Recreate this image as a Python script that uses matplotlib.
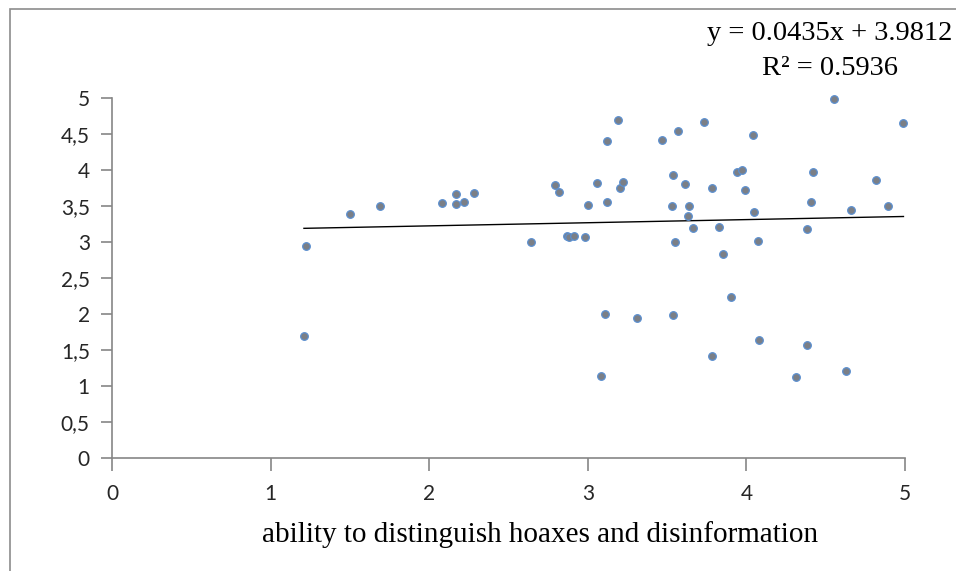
import matplotlib.pyplot as plt
import matplotlib.patches as patches
import numpy as np

# scatter values
x_vals = [1.22, 1.21, 1.50, 1.69, 2.08, 2.17, 2.17, 2.22, 2.28, 2.64,
          2.79, 2.82, 2.87, 2.88, 2.91, 2.98, 3.00, 3.06, 3.12, 3.12,
          3.19, 3.20, 3.22, 3.47, 3.57, 3.54, 3.53, 3.55, 3.73, 4.04,
          4.55, 4.99, 3.61, 3.94, 3.97, 3.78, 3.99, 4.42, 4.82, 3.64,
          3.63, 4.05, 4.41, 4.66, 4.89, 3.66, 3.83, 4.38, 4.07, 3.85,
          3.11, 3.31, 3.54, 3.08, 3.90, 3.78, 4.08, 4.38, 4.31, 4.63]
y_vals = [2.95, 1.69, 3.39, 3.50, 3.54, 3.53, 3.67, 3.56, 3.68, 3.00,
          3.79, 3.70, 3.09, 3.07, 3.09, 3.07, 3.52, 3.82, 4.40, 3.56,
          4.70, 3.75, 3.84, 4.42, 4.54, 3.93, 3.50, 3.00, 4.67, 4.49,
          4.99, 4.65, 3.81, 3.97, 4.00, 3.75, 3.72, 3.97, 3.86, 3.50,
          3.36, 3.41, 3.56, 3.45, 3.50, 3.20, 3.21, 3.18, 3.02, 2.84,
          2.00, 1.94, 1.98, 1.14, 2.23, 1.41, 1.64, 1.57, 1.12, 1.21]

# trend line as drawn
slope = 0.0435
intercept = 3.137
eq_text = "y = 0.0435x + 3.9812\nR² = 0.5936"

x_ticks = [0, 1, 2, 3, 4, 5]
y_ticks = [0, 0.5, 1, 1.5, 2, 2.5, 3, 3.5, 4, 4.5, 5]
y_labels = ["0", "0,5", "1", "1,5", "2", "2,5", "3", "3,5", "4", "4,5", "5"]

fig = plt.figure(figsize=(9.56, 5.71), dpi=100)
ax = fig.add_axes([0.1172, 0.1979, 0.8295, 0.6305])

# outer chart frame (cut on right and bottom)
fig.patches.append(patches.Rectangle((10 / 956, -0.1), 1.2, 1 - 9 / 571 + 0.1,
                                     transform=fig.transFigure, fill=False,
                                     edgecolor="#8c8c8c", linewidth=1.2))

ax.scatter(x_vals, y_vals, s=30, color="#7b7f86", edgecolors="#5b8fd0",
           linewidths=0.9, zorder=3, clip_on=False)

xl = np.array([min(x_vals), max(x_vals)])
ax.plot(xl, slope * xl + intercept, color="black", linewidth=1.0, zorder=2)

ax.set_xlim(0, 5)
ax.set_ylim(0, 5)
ax.set_xticks(x_ticks)
ax.set_yticks(y_ticks)
ax.set_yticklabels(y_labels)

for side in ["top", "right"]:
    ax.spines[side].set_visible(False)
for side in ["left", "bottom"]:
    ax.spines[side].set_color("#868686")
    ax.spines[side].set_linewidth(1.2)

ax.tick_params(axis="y", direction="out", length=8, width=1.2, color="#868686",
               labelsize=15, pad=8)
ax.tick_params(axis="x", direction="out", length=9, width=1.2, color="#868686",
               labelsize=15, pad=10)
for lab in ax.get_xticklabels() + ax.get_yticklabels():
    lab.set_fontfamily("Lato")
    lab.set_color("#262626")

ax.set_xlabel("ability to distinguish hoaxes and disinformation",
              fontfamily="Liberation Serif", fontsize=21, labelpad=12)
ax.xaxis.set_label_coords(0.54, -0.175)

fig.text(830 / 956, 1 - 51 / 571, eq_text, ha="center", va="center",
         fontfamily="Liberation Serif", fontsize=20.5, linespacing=1.5)

fig.savefig("out.png", dpi=100)
